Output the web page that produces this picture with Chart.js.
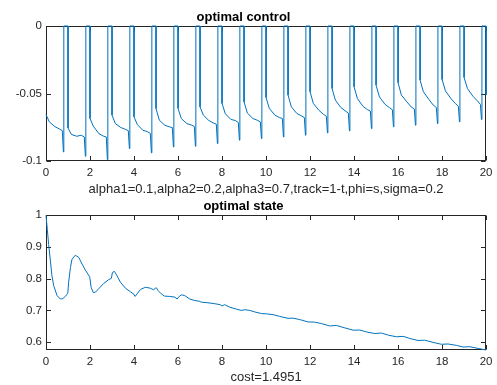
<!DOCTYPE html>
<html>
<head>
<meta charset="utf-8">
<script src="https://cdn.jsdelivr.net/npm/chart.js@4.4.1/dist/chart.umd.min.js"></script>
<style>
  body { margin: 0; background: #fff; }
  canvas { position: absolute; left: 0; top: 0; }
</style>
</head>
<body>
<canvas id="controlChart" width="497" height="385"></canvas>
<canvas id="stateChart" width="497" height="385"></canvas>
<script>
// x ticks shared by both plots
const xTicks = [0, 2, 4, 6, 8, 10, 12, 14, 16, 18, 20];

// optimal control: one row per unit period, values read at phases of the period
const controlPhase = [0, 0.15, 0.4, 0.6, 0.74, 0.79];
const controlStart = [-0.0656, -0.0755, -0.0685, -0.066, -0.0673, -0.0611, -0.061, -0.0599, -0.0574, -0.0562, -0.053, -0.0512, -0.0487, -0.0463, -0.045, -0.0438, -0.042, -0.0401, -0.0396, -0.0381];
const controlEarly = [-0.071, -0.0803, -0.0742, -0.0723, -0.073, -0.0698, -0.0686, -0.066, -0.065, -0.0645, -0.0611, -0.0599, -0.0574, -0.0549, -0.0537, -0.0525, -0.0512, -0.0487, -0.048, -0.0463];
const controlMid = [-0.0745, -0.0817, -0.0797, -0.0752, -0.0772, -0.0735, -0.0723, -0.07, -0.0692, -0.0685, -0.066, -0.0648, -0.0624, -0.0604, -0.0594, -0.0579, -0.0562, -0.0544, -0.0537, -0.052];
const controlLate = [-0.0762, -0.0809, -0.0815, -0.0765, -0.0782, -0.0747, -0.0733, -0.0718, -0.07, -0.0698, -0.0678, -0.0665, -0.0653, -0.0629, -0.0619, -0.0604, -0.06, -0.0586, -0.0574, -0.0554];
const controlKnee = [-0.0775, -0.0822, -0.0822, -0.0775, -0.0795, -0.0752, -0.0745, -0.0727, -0.0715, -0.071, -0.0685, -0.0678, -0.0668, -0.0645, -0.063, -0.062, -0.0615, -0.0604, -0.0595, -0.058];
const controlDip = [-0.0933, -0.0965, -0.099, -0.0908, -0.094, -0.0896, -0.0891, -0.0871, -0.0846, -0.0834, -0.0822, -0.0809, -0.0792, -0.0777, -0.076, -0.0747, -0.0735, -0.0723, -0.071, -0.0693];
const controlJumpUp = 0.81;   // phase where control jumps back to 0
const controlEnd = -0.051;    // value right at t = 20
const controlTicks = [-0.1, -0.05, 0];
const controlTickLabels = ['-0.1', '-0.05', '0'];

// optimal state
const stateT = [0, 0.06, 0.12, 0.2, 0.27, 0.35, 0.5, 0.65, 0.76, 0.88, 0.99, 1.03, 1.11, 1.18, 1.33, 1.49, 1.64, 1.79, 1.94, 1.99,
  2.05, 2.14, 2.24, 2.39, 2.62, 2.85, 2.97, 3.02, 3.11, 3.23, 3.38, 3.61, 3.83, 3.98, 4.05, 4.14, 4.29, 4.52, 4.74, 4.89,
  4.97, 5.02, 5.09, 5.24, 5.39, 5.62, 5.85, 5.96, 6.02, 6.15, 6.3, 6.53, 6.76, 6.96, 7.06, 7.36, 7.67, 7.92, 8.0, 8.12,
  8.35, 8.65, 8.88, 9.03, 9.26, 9.49, 9.79, 10.02, 10.32, 10.62, 11.0, 11.23, 11.53, 11.91, 12.21, 12.52, 12.89, 13.2, 13.58, 13.96,
  14.26, 14.56, 14.94, 15.24, 15.55, 15.92, 16.23, 16.53, 16.91, 17.21, 17.59, 17.97, 18.27, 18.65, 18.95, 19.26, 19.64, 20.0];
const stateX = [1.0, 0.955, 0.908, 0.856, 0.809, 0.778, 0.747, 0.736, 0.737, 0.744, 0.754, 0.789, 0.835, 0.861, 0.874, 0.867, 0.846, 0.827, 0.811, 0.804,
  0.773, 0.757, 0.757, 0.768, 0.785, 0.797, 0.801, 0.82, 0.823, 0.809, 0.789, 0.77, 0.759, 0.752, 0.744, 0.752, 0.766, 0.773, 0.77, 0.765,
  0.77, 0.771, 0.7625, 0.752, 0.745, 0.744, 0.742, 0.736, 0.742, 0.749, 0.747, 0.736, 0.731, 0.729, 0.726, 0.724, 0.721, 0.718, 0.714, 0.718,
  0.71, 0.704, 0.7, 0.702, 0.7, 0.695, 0.69, 0.689, 0.6865, 0.681, 0.675, 0.6755, 0.671, 0.6635, 0.663, 0.6583, 0.651, 0.6525, 0.6448, 0.6375,
  0.638, 0.632, 0.627, 0.6285, 0.622, 0.6167, 0.618, 0.6115, 0.605, 0.606, 0.599, 0.593, 0.594, 0.5896, 0.5844, 0.5854, 0.58, 0.575];
const stateTicks = [0.6, 0.7, 0.8, 0.9, 1];
const stateTickLabels = ['0.6', '0.7', '0.8', '0.9', '1'];

const FONT = "'Liberation Sans', Arial, sans-serif";
const AXIS = '#262626';
const LINE = '#0072BD';

// build control points from the period table
const controlPoints = [];
controlStart.forEach((s, k) => {
    const vals = [s, controlEarly[k], controlMid[k], controlLate[k], controlKnee[k], controlDip[k]];
    vals.forEach((v, j) => controlPoints.push({ x: k + controlPhase[j], y: v }));
    controlPoints.push({ x: k + controlJumpUp, y: 0 });
    controlPoints.push({ x: k + 1, y: 0 });
});
controlPoints.push({ x: 20, y: controlEnd });

const statePoints = stateT.map((t, i) => ({ x: t, y: stateX[i] }));

// MATLAB-like box with inward ticks on all four sides
const boxPlugin = {
    id: 'matlabBox',
    beforeDatasetsDraw(chart) {
        const { ctx, chartArea: a, scales: { x, y } } = chart;
        const L = Math.round(a.left) + 0.5, R = Math.round(a.right) - 0.5;
        const T = Math.round(a.top) + 0.5, B = Math.round(a.bottom) - 0.5;
        const len = 4.5;
        ctx.save();
        ctx.strokeStyle = AXIS;
        ctx.lineWidth = 1;
        ctx.strokeRect(L, T, R - L, B - T);
        ctx.beginPath();
        x.ticks.forEach(t => {
            const px = Math.round(x.getPixelForValue(t.value)) + 0.5;
            ctx.moveTo(px, B); ctx.lineTo(px, B - len);
            ctx.moveTo(px, T); ctx.lineTo(px, T + len);
        });
        y.ticks.forEach(t => {
            const py = Math.round(y.getPixelForValue(t.value)) + 0.5;
            ctx.moveTo(L, py); ctx.lineTo(L + len, py);
            ctx.moveTo(R, py); ctx.lineTo(R - len, py);
        });
        ctx.stroke();
        ctx.restore();
    }
};

function makeChart(id, points, opts) {
    return new Chart(document.getElementById(id), {
        type: 'line',
        data: {
            datasets: [{
                data: points,
                borderColor: LINE,
                borderWidth: 1,
                pointRadius: 0,
                tension: 0,
                fill: false,
                clip: false
            }]
        },
        options: {
            responsive: false,
            animation: false,
            events: [],
            layout: { padding: opts.padding },
            plugins: {
                legend: { display: false },
                tooltip: { enabled: false },
                title: {
                    display: true,
                    text: opts.title,
                    color: '#000',
                    font: { family: FONT, size: 13, weight: 'bold', lineHeight: 1.2 },
                    padding: opts.titlePadding
                }
            },
            scales: {
                x: {
                    type: 'linear',
                    min: 0,
                    max: 20,
                    grid: { display: false, drawTicks: false },
                    border: { display: false },
                    afterBuildTicks: s => { s.ticks = xTicks.map(v => ({ value: v })); },
                    afterFit: s => { s.height = opts.xHeight; },
                    ticks: {
                        autoSkip: false,
                        maxRotation: 0,
                        padding: 4.5,
                        color: AXIS,
                        font: { family: FONT, size: 11.5 },
                        callback: v => String(v)
                    },
                    title: {
                        display: true,
                        text: opts.xLabel,
                        color: AXIS,
                        font: { family: FONT, size: 13, lineHeight: 1.1 },
                        padding: { top: 0, bottom: 0 }
                    }
                },
                y: {
                    type: 'linear',
                    min: opts.yMin,
                    max: opts.yMax,
                    grid: { display: false, drawTicks: false },
                    border: { display: false },
                    afterBuildTicks: s => { s.ticks = opts.yTicks.map(v => ({ value: v })); },
                    afterFit: s => { s.width = 46; },
                    ticks: {
                        padding: 4,
                        color: AXIS,
                        font: { family: FONT, size: 11.5 },
                        callback: (v, i) => opts.yLabels[i]
                    }
                }
            }
        },
        plugins: [boxPlugin]
    });
}

makeChart('controlChart', controlPoints, {
    title: 'optimal control',
    titlePadding: { top: 9.4, bottom: 1 },
    padding: { left: 0, right: 10, top: 0, bottom: 188 },
    xHeight: 36,
    xLabel: 'alpha1=0.1,alpha2=0.2,alpha3=0.7,track=1-t,phi=s,sigma=0.2',
    yMin: -0.1,
    yMax: 0,
    yTicks: controlTicks,
    yLabels: controlTickLabels
});

makeChart('stateChart', statePoints, {
    title: 'optimal state',
    titlePadding: { top: 1.7, bottom: 1 },
    padding: { left: 0, right: 10, top: 197, bottom: 0 },
    xHeight: 35,
    xLabel: 'cost=1.4951',
    yMin: 0.575,
    yMax: 1,
    yTicks: stateTicks,
    yLabels: stateTickLabels
});
</script>
</body>
</html>
